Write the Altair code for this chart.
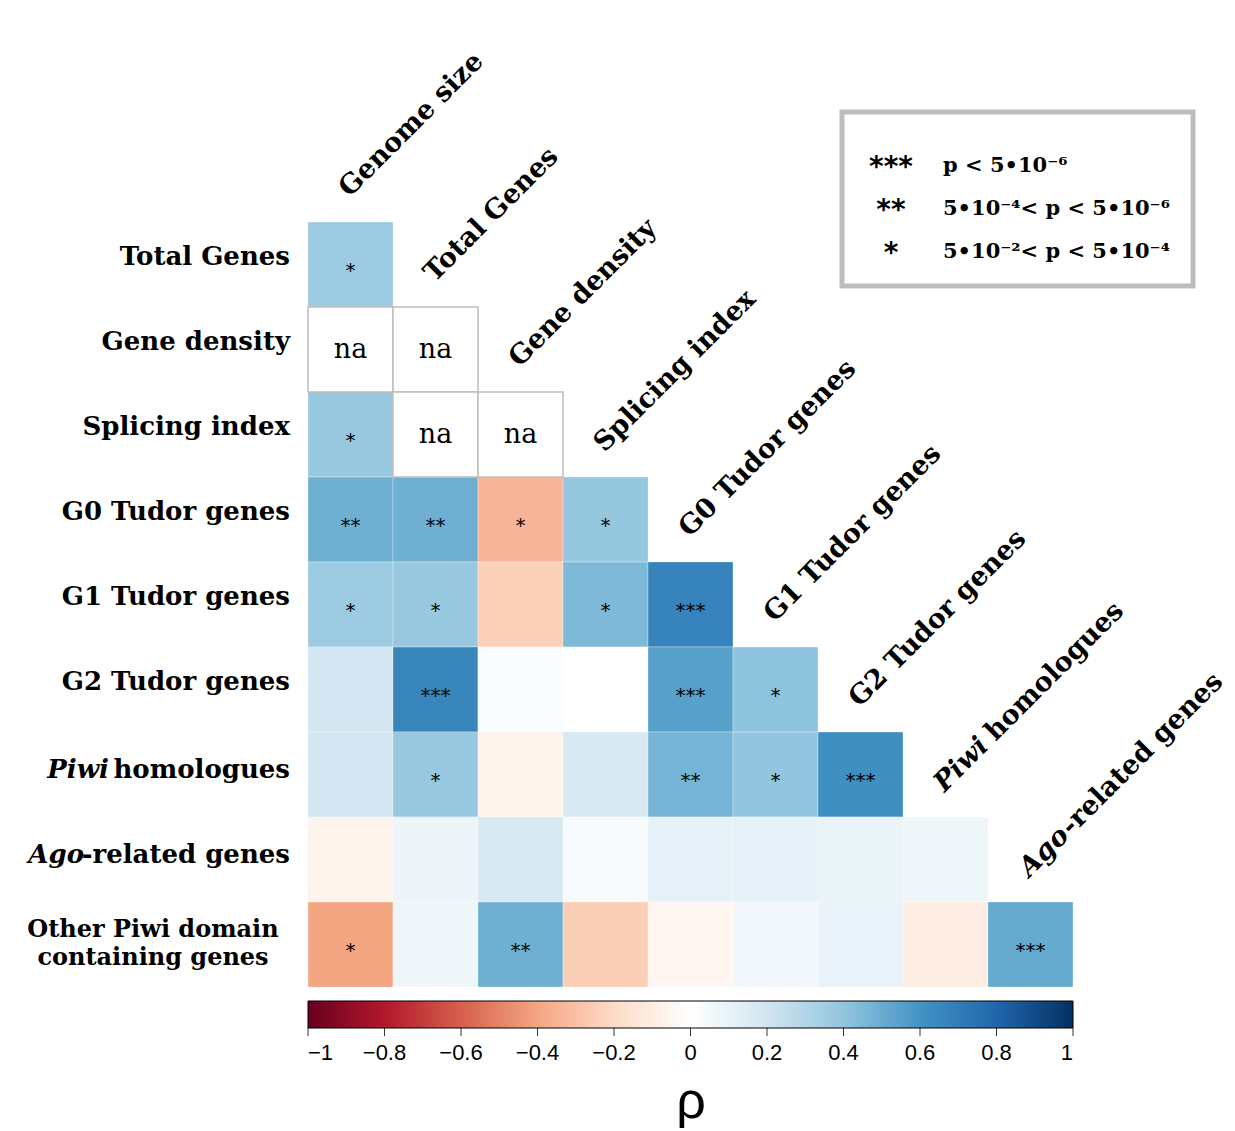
import altair as alt
import pandas as pd

# ---------------- data ----------------
rows = ["Total Genes", "Gene density", "Splicing index", "G0 Tudor genes",
        "G1 Tudor genes", "G2 Tudor genes", "Piwi homologues",
        "Ago-related genes", "Other Piwi domain containing genes"]
cols = ["Genome size", "Total Genes", "Gene density", "Splicing index",
        "G0 Tudor genes", "G1 Tudor genes", "G2 Tudor genes",
        "Piwi homologues", "Ago-related genes"]

# Spearman rho per row (lower triangle, None = na)
rho_total_genes = [0.37]
rho_gene_density = [None, None]
rho_splicing_index = [0.38, None, None]
rho_g0 = [0.49, 0.49, -0.34, 0.39]
rho_g1 = [0.37, 0.38, -0.24, 0.45, 0.67]
rho_g2 = [0.19, 0.66, 0.02, 0.00, 0.55, 0.41]
rho_piwi = [0.19, 0.38, -0.065, 0.17, 0.47, 0.40, 0.62]
rho_ago = [-0.06, 0.08, 0.17, 0.03, 0.11, 0.11, 0.09, 0.07]
rho_other = [-0.40, 0.07, 0.49, -0.25, -0.05, 0.06, 0.10, -0.10, 0.51]

stars_total_genes = ["*"]
stars_gene_density = ["", ""]
stars_splicing_index = ["*", "", ""]
stars_g0 = ["**", "**", "*", "*"]
stars_g1 = ["*", "*", "", "*", "***"]
stars_g2 = ["", "***", "", "", "***", "*"]
stars_piwi = ["", "*", "", "", "**", "*", "***"]
stars_ago = ["", "", "", "", "", "", "", ""]
stars_other = ["*", "", "**", "", "", "", "", "", "***"]

tick_values = [-1, -0.8, -0.6, -0.4, -0.2, 0, 0.2, 0.4, 0.6, 0.8, 1]
palette = ["#67001F", "#B2182B", "#D6604D", "#F4A582", "#FDDBC7", "#FFFFFF",
           "#D1E5F0", "#92C5DE", "#4393C3", "#2166AC", "#053061"]

legend_stars = ["***", "**", "*"]
legend_texts = ["p < 5\u202210\u207b\u2076",
                "5\u202210\u207b\u2074< p < 5\u202210\u207b\u2076",
                "5\u202210\u207b\u00b2< p < 5\u202210\u207b\u2074"]

rho_rows = [rho_total_genes, rho_gene_density, rho_splicing_index, rho_g0,
            rho_g1, rho_g2, rho_piwi, rho_ago, rho_other]
star_rows = [stars_total_genes, stars_gene_density, stars_splicing_index,
             stars_g0, stars_g1, stars_g2, stars_piwi, stars_ago, stars_other]

records = []
for i, r in enumerate(rows):
    for j, v in enumerate(rho_rows[i]):
        records.append({"row": r, "col": cols[j], "rho": v,
                        "stars": star_rows[i][j]})
df = pd.DataFrame(records)
cells = df[df["rho"].notna()].copy()
na = df[df["rho"].isna()].copy()
na["label"] = "na"
starred = cells[cells["stars"] != ""].copy()

# ---------------- layout constants ----------------
W = 765
H = 765
SERIF = "DejaVu Serif"
LABEL_SIZE = 26

xs = alt.Scale(domain=cols, paddingInner=0, paddingOuter=0)
ys = alt.Scale(domain=rows, paddingInner=0, paddingOuter=0)
X = alt.X("col:N", scale=xs, axis=None)
Y = alt.Y("row:N", scale=ys, axis=None)

heat = alt.Chart(cells).mark_rect(
    stroke="white", strokeWidth=0.6, strokeOpacity=0.5
).encode(
    x=X, y=Y,
    color=alt.Color(
        "rho:Q",
        scale=alt.Scale(domain=tick_values, range=palette, interpolate="rgb"),
        legend=alt.Legend(
            orient="none", legendX=0, legendY=779, direction="horizontal",
            gradientLength=W, gradientThickness=27,
            gradientStrokeColor="black", gradientStrokeWidth=1,
            title=None, values=tick_values, format=".1~f",
            labelFont="Liberation Sans", labelFontSize=22,
            labelColor="black", labelOffset=15, labelAlign="center",
            labelOverlap=False, padding=0,
        ),
    ),
)

na_rect = alt.Chart(na).mark_rect(
    fill="white", stroke="#bdbdbd", strokeWidth=1.5
).encode(x=X, y=Y)

na_text = alt.Chart(na).mark_text(
    font=SERIF, fontSize=27, baseline="alphabetic", dy=8, color="black"
).encode(x=X, y=Y, text="label:N")

star_text = alt.Chart(starred).mark_text(
    font="DejaVu Sans", fontSize=20, baseline="alphabetic", dy=12,
    color="black"
).encode(x=X, y=Y, text="stars:N")

# ---------------- row labels ----------------
plain_rows = pd.DataFrame({"row": rows[:6], "text": rows[:6]})
row_plain = alt.Chart(plain_rows).mark_text(
    font=SERIF, fontWeight="bold", fontSize=LABEL_SIZE, align="right",
    baseline="alphabetic", dy=0, color="black"
).encode(x=alt.value(-18), y=Y, text="text:N")

PIWI_SHIFT = 181
AGO_SHIFT = 206
piwi_df = pd.DataFrame({"row": [rows[6]], "it": ["Piwi"], "rest": ["homologues"]})
ago_df = pd.DataFrame({"row": [rows[7]], "it": ["Ago"], "rest": ["-related genes"]})

row_piwi_rest = alt.Chart(piwi_df).mark_text(
    font=SERIF, fontWeight="bold", fontSize=LABEL_SIZE, align="right",
    baseline="alphabetic", dy=3, color="black"
).encode(x=alt.value(-18), y=Y, text="rest:N")
row_piwi_it = alt.Chart(piwi_df).mark_text(
    font=SERIF, fontWeight="bold", fontStyle="italic", fontSize=LABEL_SIZE,
    align="right", baseline="alphabetic", dy=3, color="black"
).encode(x=alt.value(-18 - PIWI_SHIFT), y=Y, text="it:N")
row_ago_rest = alt.Chart(ago_df).mark_text(
    font=SERIF, fontWeight="bold", fontSize=LABEL_SIZE, align="right",
    baseline="alphabetic", dy=3, color="black"
).encode(x=alt.value(-18), y=Y, text="rest:N")
row_ago_it = alt.Chart(ago_df).mark_text(
    font=SERIF, fontWeight="bold", fontStyle="italic", fontSize=LABEL_SIZE,
    align="right", baseline="alphabetic", dy=3, color="black"
).encode(x=alt.value(-18 - AGO_SHIFT), y=Y, text="it:N")

other_df = pd.DataFrame({"row": [rows[8]], "text": ["Other Piwi domain\ncontaining genes"]})
row_other = alt.Chart(other_df).mark_text(
    font=SERIF, fontWeight="bold", fontSize=LABEL_SIZE - 2, align="center",
    baseline="alphabetic", dy=-8, lineBreak="\n", lineHeight=28,
    color="black"
).encode(x=alt.value(-155), y=Y, text="text:N")

# ---------------- column labels ----------------
XT = alt.X("col:N", scale=xs, axis=None, bandPosition=0.5)
YT = alt.Y("row:N", scale=ys, axis=None, bandPosition=0)
col_plain_df = pd.DataFrame({"col": cols[:7], "row": rows[:7], "text": cols[:7]})
col_special_df = pd.DataFrame({"col": cols[7:], "row": rows[7:],
                               "it": ["Piwi", "Ago"],
                               "rest": ["homologues", "-related genes"]})

col_kw = dict(font=SERIF, fontWeight="bold", fontSize=LABEL_SIZE + 1, angle=315,
              align="left", baseline="alphabetic", xOffset=-1, yOffset=-24,
              color="black")
col_plain = alt.Chart(col_plain_df).mark_text(**col_kw).encode(
    x=XT, y=YT, text="text:N")
col_piwi_it = alt.Chart(col_special_df.iloc[[0]]).mark_text(
    fontStyle="italic", **col_kw).encode(x=XT, y=YT, text="it:N")
col_piwi_rest = alt.Chart(col_special_df.iloc[[0]]).mark_text(
    dx=72, **col_kw).encode(x=XT, y=YT, text="rest:N")
col_ago_it = alt.Chart(col_special_df.iloc[[1]]).mark_text(
    fontStyle="italic", **col_kw).encode(x=XT, y=YT, text="it:N")
col_ago_rest = alt.Chart(col_special_df.iloc[[1]]).mark_text(
    dx=59, **col_kw).encode(x=XT, y=YT, text="rest:N")

# ---------------- colour bar ticks & rho ----------------
ticks = alt.Chart(pd.DataFrame({"v": tick_values})).mark_rule(
    color="#333333", strokeWidth=1
).encode(
    x=alt.X("v:Q", scale=alt.Scale(domain=[-1, 1], nice=False, zero=False),
            axis=None),
    y=alt.value(806), y2=alt.value(814),
)

rho_title = alt.Chart(pd.DataFrame({"t": ["\u03c1"]})).mark_text(
    font="Liberation Sans", fontSize=52, baseline="alphabetic", color="black"
).encode(x=alt.value(383), y=alt.value(896), text="t:N")

# ---------------- significance legend box ----------------
box = alt.Chart(pd.DataFrame({"a": [0]})).mark_rect(
    fill="white", stroke="#bdbdbd", strokeWidth=5
).encode(x=alt.value(534), x2=alt.value(885), y=alt.value(-110), y2=alt.value(64))

legend_layers = []
for i, (s, t) in enumerate(zip(legend_stars, legend_texts)):
    yb = -50 + i * 43
    legend_layers.append(
        alt.Chart(pd.DataFrame({"s": [s]})).mark_text(
            font="DejaVu Sans", fontWeight="bold", fontSize=28, align="center",
            baseline="alphabetic", color="black"
        ).encode(x=alt.value(583), y=alt.value(yb + 4), text="s:N")
    )
    legend_layers.append(
        alt.Chart(pd.DataFrame({"t": [t]})).mark_text(
            font=SERIF, fontWeight="bold", fontSize=21, align="left",
            baseline="alphabetic", color="black"
        ).encode(x=alt.value(635), y=alt.value(yb), text="t:N")
    )

chart = alt.layer(
    heat, na_rect, na_text, star_text,
    row_plain, row_piwi_rest, row_piwi_it, row_ago_rest, row_ago_it, row_other,
    col_plain, col_piwi_it, col_piwi_rest, col_ago_it, col_ago_rest,
    ticks, rho_title, box, *legend_layers,
).resolve_scale(
    x="independent"
).properties(
    width=W, height=H,
    padding={"left": 300, "top": 214, "right": 154, "bottom": 141},
    autosize=alt.AutoSizeParams(type="none"),
    background="white",
).configure_view(stroke=None)

chart.save("out.html", embed_options={"renderer": "svg", "actions": False})
